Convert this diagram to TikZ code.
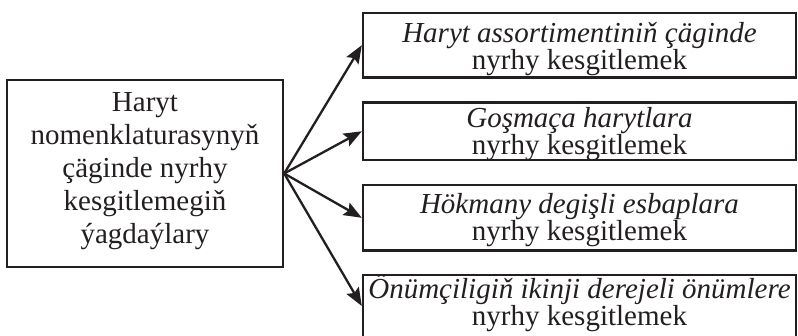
\documentclass[tikz,border=0pt]{standalone}
\usepackage{fontspec}
\setmainfont{Liberation Serif}
\usetikzlibrary{arrows.meta}
\definecolor{ink}{HTML}{231F20}
\begin{document}
\begin{tikzpicture}[x=1pt,y=-1pt,
  frame/.style={draw=ink, line width=2.4pt, rectangle, inner sep=0pt},
  bigbox/.style={frame, minimum width=276pt, minimum height=187pt},
  rbox/.style={frame, minimum width=433pt},
  ltext/.style={text=ink, inner sep=0pt, align=center, font=\fontsize{29}{33}\selectfont},
  rtext/.style={text=ink, inner sep=0pt, align=center, font=\fontsize{29}{26.7}\selectfont},
  link/.style={draw=ink, line width=2.3pt, -{Stealth[length=18pt,width=14pt,inset=3pt]}}]
\useasboundingbox (0,0) rectangle (798,335);
% boxes
\node[bigbox] (L) at (145,173.5) {};
\node[rbox, minimum height=64.5pt] (b1) at (579.5,45.2) {};
\node[rbox, minimum height=57.3pt] (b2) at (579.5,131.3) {};
\node[rbox, minimum height=65.7pt] (b3) at (579.5,217.8) {};
\node[rbox, minimum height=62pt] (b4) at (579.5,306) {};
% texts
\node[ltext] (tL) at (145,171.6) {Haryt\\nomenklaturasynyň\\çäginde nyrhy\\kesgitlemegiň\\ýagdaýlary};
\node[rtext] (t1) at (579.5,48.7) {\textit{Haryt assortimentiniň çäginde}\\nyrhy kesgitlemek};
\node[rtext] (t2) at (579.5,134.3) {\textit{Goşmaça harytlara}\\nyrhy kesgitlemek};
\node[rtext] (t3) at (579.5,219.9) {\textit{Hökmany degişli esbaplara}\\nyrhy kesgitlemek};
\node[rtext] (t4) at (579.5,302.9) {\textit{Önümçiligiň ikinji derejeli önümlere}\\nyrhy kesgitlemek};
% connectors
\coordinate (o) at (L.east);
\draw[link] (o) -- (b1.west);
\draw[link] (o) -- (b2.west);
\draw[link] (o) -- (b3.west);
\draw[link] (o) -- (b4.west);
\end{tikzpicture}
\end{document}
